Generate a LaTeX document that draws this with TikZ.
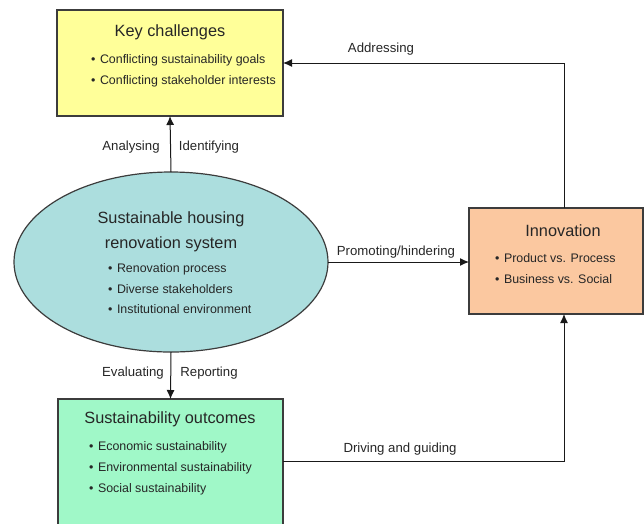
\documentclass[tikz,border=0pt]{standalone}
\usepackage{fontspec}
\setmainfont{Liberation Sans}
\usetikzlibrary{arrows.meta,shapes.geometric}
\definecolor{kcfill}{HTML}{FFFF99}
\definecolor{elfill}{HTML}{ACDEDE}
\definecolor{sofill}{HTML}{A0F8C8}
\definecolor{infill}{HTML}{FBC8A0}
\definecolor{edge}{HTML}{3C3C3C}
\tikzset{
  box/.style={draw=edge, line width=1.2pt, inner sep=0pt, outer sep=0pt},
  ttl/.style={font=\fontsize{16.3}{18}\selectfont, text=black!85, inner sep=0pt},
  bul/.style={font=\fontsize{12.4}{14}\selectfont, text=black!85, anchor=west, inner sep=0pt},
  lbl/.style={font=\fontsize{13.2}{15}\selectfont, text=black!85, inner sep=0pt},
  conn/.style={draw=black!90, line width=1pt, -{Latex[length=9pt,width=8pt]}}
}
\begin{document}
\begin{tikzpicture}[x=1pt,y=-1pt]
\useasboundingbox (0,0) rectangle (644,523);
\clip (0,0) rectangle (644,523);
% boxes
\node[box, fill=kcfill, minimum width=226pt, minimum height=106pt] (kc) at (170,63) {};
\node[box, fill=elfill, ellipse, minimum width=314pt, minimum height=180pt] (sys) at (171,262) {};
\node[box, fill=sofill, minimum width=225pt, minimum height=131pt] (so) at (170.5,464.5) {};
\node[box, fill=infill, minimum width=174pt, minimum height=106pt] (inn) at (556,261) {};
% texts: key challenges
\node[ttl] (kct) at (170,32) {Key challenges};
\node[bul] (kc1) at (91,60) {\textbullet\hspace{4.5pt}Conflicting sustainability goals};
\node[bul] (kc2) at (91,81) {\textbullet\hspace{4.5pt}Conflicting stakeholder interests};
% system
\node[ttl] (syst1) at (171,219) {Sustainable housing};
\node[ttl] (syst2) at (171,244) {renovation system};
\node[bul] (sys1) at (108,269) {\textbullet\hspace{4.5pt}Renovation process};
\node[bul] (sys2) at (108,289) {\textbullet\hspace{4.5pt}Diverse stakeholders};
\node[bul] (sys3) at (108,309) {\textbullet\hspace{4.5pt}Institutional environment};
% outcomes
\node[ttl] (sot) at (170,419) {Sustainability outcomes};
\node[bul] (so1) at (89,447) {\textbullet\hspace{4.5pt}Economic sustainability};
\node[bul] (so2) at (89,468) {\textbullet\hspace{4.5pt}Environmental sustainability};
\node[bul] (so3) at (89,489) {\textbullet\hspace{4.5pt}Social sustainability};
% innovation
\node[ttl] (innt) at (563,231) {Innovation};
\node[bul] (in1) at (495,258) {\textbullet\hspace{4.5pt}Product vs. Process};
\node[bul] (in2) at (495,279) {\textbullet\hspace{4.5pt}Business vs. Social};
% connectors
\draw[conn] (sys.north) -- (kc.south);
\draw[conn] (sys.south) -- (so.north);
\draw[conn] (sys.east) -- (sys.east -| inn.west);
\coordinate (c1) at (564,63);
\coordinate (c2) at (564,461);
\draw[conn] (inn.north -| c1) -- (c1) -- (kc.east |- c1);
\draw[conn] (so.east |- c2) -- (c2) -- (inn.south -| c2);
% labels
\node[lbl] (l1) at (131,147) {Analysing};
\node[lbl] (l2) at (209,147) {Identifying};
\node[lbl] (l3) at (133,373) {Evaluating};
\node[lbl] (l4) at (209,373) {Reporting};
\node[lbl] (l5) at (396,252) {Promoting/hindering};
\node[lbl] (l6) at (381,49) {Addressing};
\node[lbl] (l7) at (400,449) {Driving and guiding};
\end{tikzpicture}
\end{document}
